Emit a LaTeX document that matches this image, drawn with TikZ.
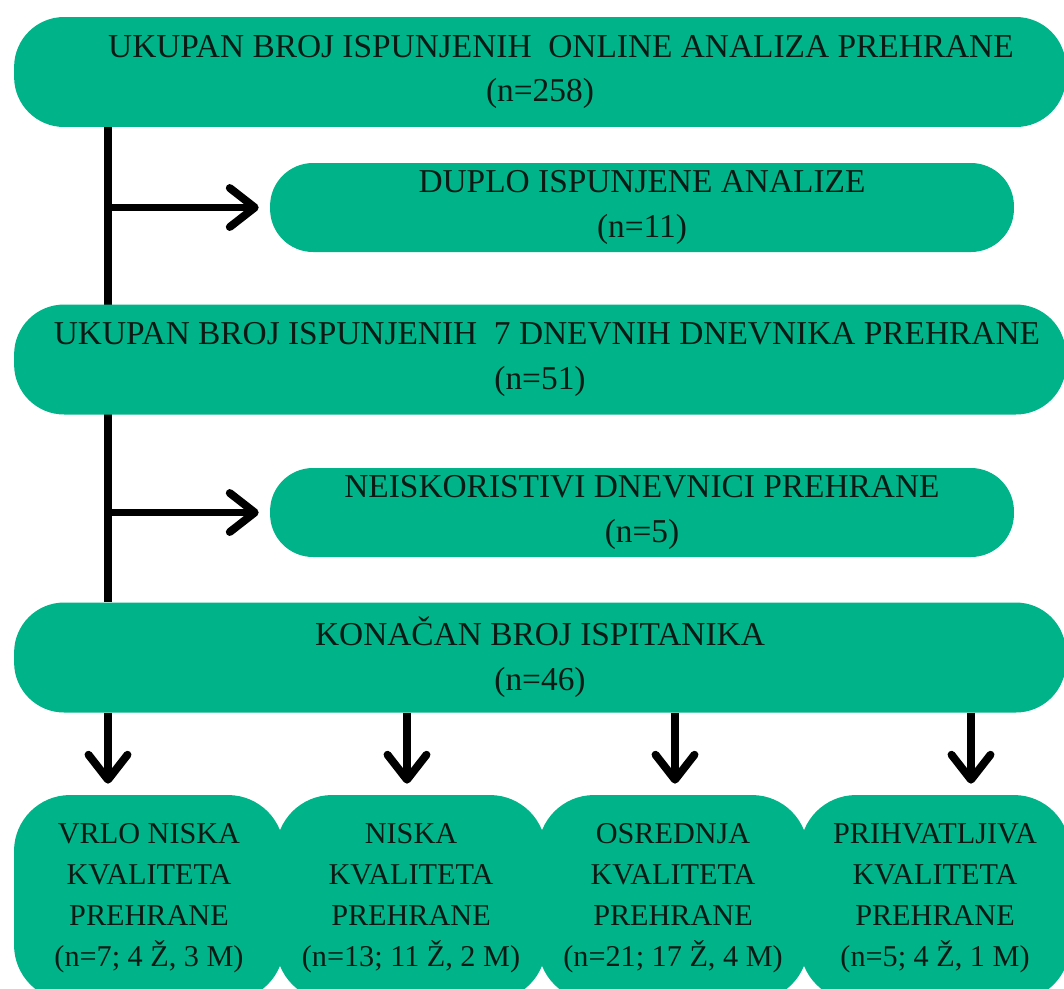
\documentclass[tikz,border=0pt]{standalone}
\usepackage{fontspec}
\setmainfont{Liberation Serif}
\usepackage{tikz}
\usetikzlibrary{arrows.meta,positioning,backgrounds}
\definecolor{figteal}{HTML}{00B389}
\definecolor{figink}{HTML}{0A1A14}

\begin{document}
\begin{tikzpicture}[x=0.02cm,y=-0.02cm,
  bigbox/.style={fill=figteal, rounded corners=1.0cm, minimum width=21.04cm, minimum height=2.2cm,
    inner sep=0pt, align=center, text=figink, font=\fontsize{19}{25.6}\selectfont},
  midbox/.style={fill=figteal, rounded corners=0.86cm, minimum width=14.88cm, minimum height=1.78cm,
    inner sep=0pt, align=center, text=figink, font=\fontsize{19}{25.6}\selectfont},
  qualbox/.style={fill=figteal, rounded corners=1.12cm, minimum width=5.4cm, minimum height=4.12cm,
    inner sep=0pt, align=center, text=figink, font=\fontsize{17.2}{23.3}\selectfont},
  link/.style={line width=4.5pt, color=black},
  arr/.style={link, -{Straight Barb[round, length=0.5cm, width=0.78cm]}, shorten >=0.22cm}]
\useasboundingbox (0,0) rectangle (1064,988);

\node[bigbox] (total) at (540,72) {\hspace*{0.84cm}UKUPAN BROJ ISPUNJENIH\ \ ONLINE ANALIZA PREHRANE\\(n=258)};
\node[midbox] (dupl) at (642,207.5) {DUPLO ISPUNJENE ANALIZE\\(n=11)};
\node[bigbox] (diary) at (540,359.5) {\hspace*{0.28cm}UKUPAN BROJ ISPUNJENIH\ \ 7 DNEVNIH DNEVNIKA PREHRANE\\(n=51)};
\node[midbox] (unused) at (642,512.5) {NEISKORISTIVI DNEVNICI PREHRANE\\(n=5)};
\node[bigbox] (final) at (540,657.5) {KONAČAN BROJ ISPITANIKA\\(n=46)};

\node[qualbox] (vlow) at (149,898) {VRLO NISKA\\KVALITETA\\PREHRANE\\(n=7; 4 Ž, 3 M)};
\node[qualbox] (low) at (411,898) {NISKA\\KVALITETA\\PREHRANE\\(n=13; 11 Ž, 2 M)};
\node[qualbox] (mid) at (673,898) {OSREDNJA\\KVALITETA\\PREHRANE\\(n=21; 17 Ž, 4 M)};
\node[qualbox] (ok) at (935,898) {PRIHVATLJIVA\\KVALITETA\\PREHRANE\\(n=5; 4 Ž, 1 M)};

\coordinate (spine) at (108,0);
\coordinate (d2) at (407,0);
\coordinate (d3) at (675,0);
\coordinate (d4) at (971,0);

\begin{scope}[on background layer]
\draw[link] (total.south -| spine) -- (final.north -| spine);
\draw[arr] (dupl.west -| spine) -- (dupl.west);
\draw[arr] (unused.west -| spine) -- (unused.west);
\end{scope}

\draw[arr] (final.south -| spine) -- (vlow.north -| spine);
\draw[arr] (final.south -| d2) -- (low.north -| d2);
\draw[arr] (final.south -| d3) -- (mid.north -| d3);
\draw[arr] (final.south -| d4) -- (ok.north -| d4);
\end{tikzpicture}
\end{document}
